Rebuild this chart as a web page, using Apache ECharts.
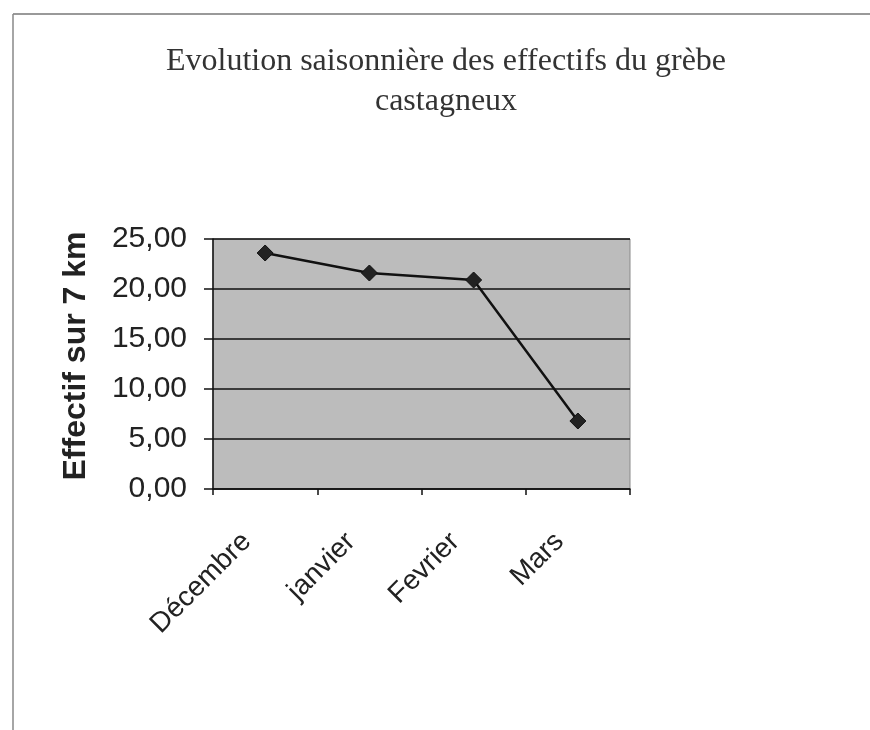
<!DOCTYPE html>
<html>
<head>
<meta charset="utf-8">
<script src="https://cdn.jsdelivr.net/npm/echarts@6/dist/echarts.min.js"></script>
<style>html,body{margin:0;padding:0;background:#fff;}#c{width:870px;height:730px;}</style>
</head>
<body>
<div id="c"></div>
<script>
var titleText = 'Evolution saisonnière des effectifs du grèbe\ncastagneux';
var yAxisName = 'Effectif sur 7 km';
var categories = ['Décembre', 'janvier', 'Fevrier', 'Mars'];
var effectifs = [23.6, 21.6, 20.9, 6.8];
var yMin = 0, yMax = 25, yStep = 5;

var chart = echarts.init(document.getElementById('c'));
chart.setOption({
  backgroundColor: '#ffffff',
  animation: false,
  title: {
    text: titleText,
    left: 441,
    textAlign: 'center',
    top: 37,
    textStyle: {fontFamily: 'Liberation Serif', fontSize: 32, fontWeight: 'normal', color: '#333', lineHeight: 40}
  },
  graphic: [
    {type: 'line', shape: {x1: 13, y1: 14, x2: 870, y2: 14}, style: {stroke: '#777', lineWidth: 1.5}},
    {type: 'line', shape: {x1: 13, y1: 14, x2: 13, y2: 730}, style: {stroke: '#888', lineWidth: 1.5}}
  ],
  grid: {left: 213, right: 240, top: 239, bottom: 241, show: true, backgroundColor: '#bcbcbc', borderColor: '#8a8a8a', borderWidth: 1},
  xAxis: {
    type: 'category',
    data: categories,
    boundaryGap: true,
    axisLine: {lineStyle: {color: '#111', width: 1.5}},
    axisTick: {show: true, length: 6, alignWithLabel: false, lineStyle: {color: '#111', width: 1.5}},
    axisLabel: {rotate: 45, margin: 30, padding: [0, 26, 0, 0], fontFamily: 'Liberation Sans', fontSize: 28, color: '#222', interval: 0}
  },
  yAxis: {
    type: 'value',
    min: yMin, max: yMax, interval: yStep,
    name: yAxisName,
    nameLocation: 'middle',
    nameGap: 121,
    nameTextStyle: {fontFamily: 'Liberation Sans', fontSize: 32, fontWeight: 'bold', color: '#222', padding: [0, 0, 0, 16]},
    axisLine: {show: true, lineStyle: {color: '#111', width: 1.5}},
    axisTick: {show: true, length: 9, lineStyle: {color: '#111', width: 1.5}},
    axisLabel: {margin: 26, fontFamily: 'Liberation Sans', fontSize: 30, color: '#222',
      formatter: function (v) { return v.toFixed(2).replace('.', ','); }},
    splitLine: {show: true, lineStyle: {color: '#111', width: 1.5}}
  },
  series: [{
    type: 'line',
    data: effectifs,
    symbol: 'diamond',
    symbolSize: 16,
    itemStyle: {color: '#222', borderColor: '#111', borderWidth: 1},
    lineStyle: {color: '#111', width: 2.5}
  }]
});
</script>
</body>
</html>
